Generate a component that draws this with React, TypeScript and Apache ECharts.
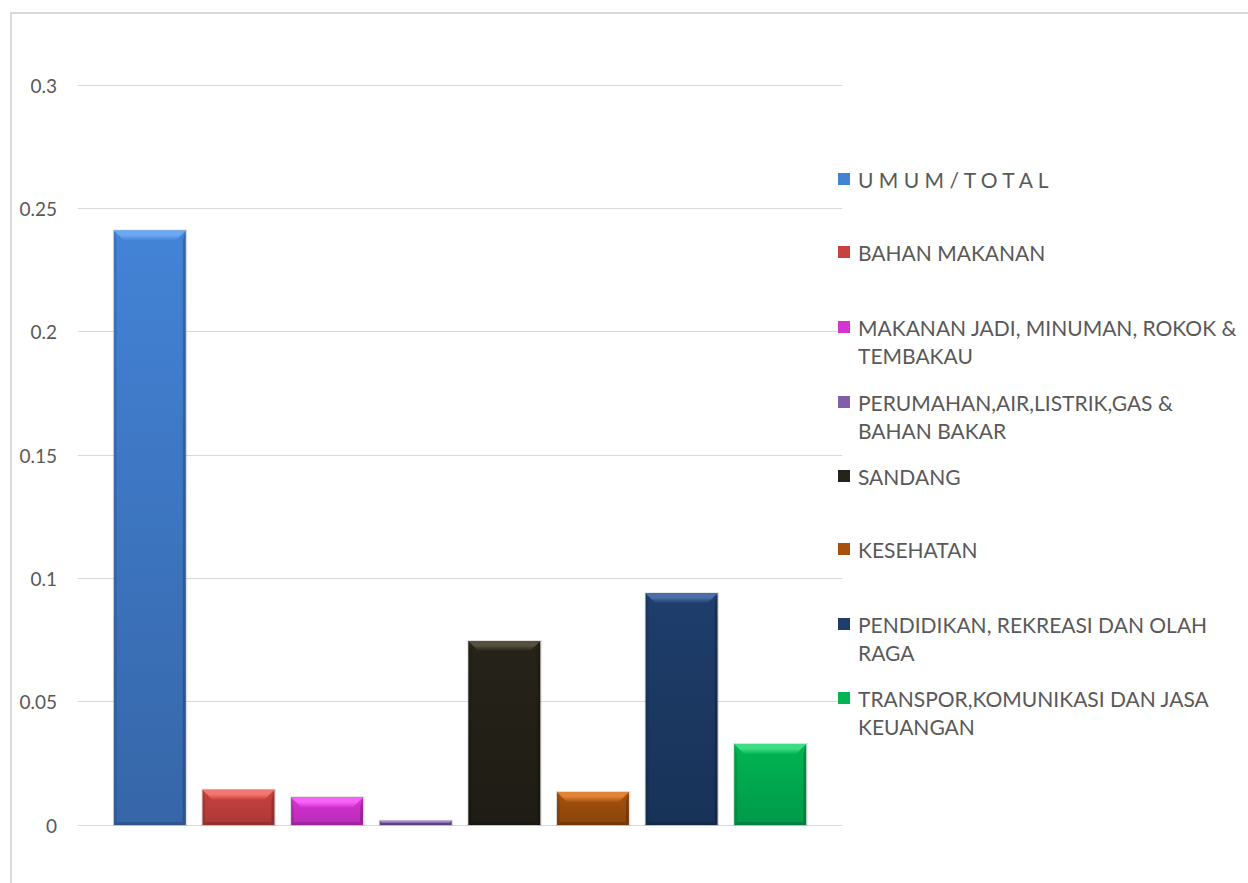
import React, { useEffect, useRef } from "react";
import * as echarts from "echarts";

const SERIES_NAMES = [
  "U M U M / T O T A L",
  "BAHAN MAKANAN",
  "MAKANAN JADI, MINUMAN, ROKOK &\nTEMBAKAU",
  "PERUMAHAN,AIR,LISTRIK,GAS &\nBAHAN BAKAR",
  "SANDANG",
  "KESEHATAN",
  "PENDIDIKAN, REKREASI DAN OLAH\nRAGA",
  "TRANSPOR,KOMUNIKASI DAN JASA\nKEUANGAN",
];
const SERIES_VALUES = [0.241, 0.0143, 0.0112, 0.0017, 0.0746, 0.0134, 0.094, 0.0328];
const CATEGORIES = [""];
const Y_MIN = 0;
const Y_MAX = 0.3;
const Y_INTERVAL = 0.05;

const COLORS = ["#4383D6", "#C8423F", "#D534D3", "#7F5FAA", "#26231A", "#A6520E", "#1F3E6C", "#00B552"];
const TOP_COLORS = ["#6AA8F4", "#F47672", "#F763F7", "#A78BD2", "#55513E", "#E08436", "#4A6FA8", "#3EDC84"];
const BOTTOM_COLORS = ["#3666A8", "#AD3836", "#B92AB7", "#664C8C", "#1E1C14", "#8A440B", "#183257", "#00994A"];

const LEGEND_CENTERS = [179, 252, 327, 402, 476, 549, 624, 698];
const FONT = "Lato, 'Liberation Sans', sans-serif";
const TEXT_COLOR = "#595959";

export default function App() {
  const ref = useRef<HTMLDivElement>(null);
  useEffect(() => {
    if (!ref.current) return;
    const chart = echarts.init(ref.current, null, { renderer: "svg" });
    const n = SERIES_NAMES.length;
    const STEP_RATIO = 0.116;
    const BAR_RATIO = 0.0942;
    const LH = 28;

    const series = SERIES_NAMES.map((name, idx) => ({
      type: "custom",
      name,
      itemStyle: { color: COLORS[idx] },
      data: [[0, SERIES_VALUES[idx]]],
      renderItem: (params: any, api: any) => {
        const v = api.value(1);
        const base = api.coord([0, 0]);
        const top = api.coord([0, v]);
        const catW = api.size([1, 0])[0];
        const step = catW * STEP_RATIO;
        const bw = catW * BAR_RATIO;
        const cx = base[0] + (idx - (n - 1) / 2) * step;
        const x = cx - bw / 2;
        const y = top[1];
        const h = base[1] - top[1];
        const b = Math.min(10, h / 2, bw / 2);
        const s = Math.min(3, bw / 2);
        const grad = new echarts.graphic.LinearGradient(0, 0, 0, 1, [
          { offset: 0, color: COLORS[idx] },
          { offset: 1, color: BOTTOM_COLORS[idx] },
        ]);
        return {
          type: "group",
          children: [
            {
              type: "rect",
              shape: { x: x - 1, y: y - 1, width: bw + 2.5, height: h + 2 },
              style: { fill: "rgba(0,0,0,0.12)" },
            },
            {
              type: "rect",
              shape: { x, y, width: bw, height: h },
              style: { fill: grad },
            },
            {
              type: "polygon",
              shape: { points: [[x, y], [x + s, y + b], [x + s, y + h - s], [x, y + h]] },
              style: { fill: "rgba(0,0,0,0.10)" },
            },
            {
              type: "polygon",
              shape: { points: [[x + bw, y], [x + bw - s, y + b], [x + bw - s, y + h - s], [x + bw, y + h]] },
              style: { fill: "rgba(0,0,0,0.20)" },
            },
            {
              type: "polygon",
              shape: { points: [[x, y + h], [x + s, y + h - s], [x + bw - s, y + h - s], [x + bw, y + h]] },
              style: { fill: "rgba(0,0,0,0.15)" },
            },
            {
              type: "polygon",
              shape: { points: [[x, y], [x + bw, y], [x + bw - b, y + b], [x + b, y + b]] },
              style: {
                fill: new echarts.graphic.LinearGradient(0, 0, 0, 1, [
                  { offset: 0, color: TOP_COLORS[idx] },
                  { offset: 0.45, color: TOP_COLORS[idx] },
                  { offset: 1, color: COLORS[idx] },
                ]),
              },
            },
          ],
        };
      },
    }));

    const legends = SERIES_NAMES.map((name, idx) => {
      const twoLine = name.includes("\n");
      return {
        orient: "vertical",
        left: 838,
        top: LEGEND_CENTERS[idx] - (twoLine ? LH * 1.5 : LH / 2),
        data: [name],
        icon: "rect",
        itemWidth: 12,
        itemHeight: 12,
        padding: 0,
        itemGap: 0,
        selectedMode: false,
        formatter: (nm: string) => (nm.includes("\n") ? "\n" + nm : nm),
        textStyle: {
          fontFamily: FONT,
          fontSize: 21,
          lineHeight: LH,
          color: TEXT_COLOR,
          padding: [0, 0, 0, 3],
        },
      };
    });

    chart.setOption({
      animation: false,
      backgroundColor: "#ffffff",
      grid: { left: 78, right: 406, top: 85, bottom: 58, containLabel: false },
      xAxis: {
        type: "category",
        data: CATEGORIES,
        axisLine: { show: true, lineStyle: { color: "#D9D9D9", width: 1 } },
        axisTick: { show: false },
        axisLabel: { show: false },
      },
      yAxis: {
        type: "value",
        min: Y_MIN,
        max: Y_MAX,
        interval: Y_INTERVAL,
        axisLine: { show: false },
        axisTick: { show: false },
        splitLine: { lineStyle: { color: "#D9D9D9", width: 1 } },
        axisLabel: { fontFamily: FONT, fontSize: 19, color: TEXT_COLOR, margin: 21 },
      },
      legend: legends,
      graphic: [
        {
          type: "rect",
          shape: { x: 11, y: 13, width: 1400, height: 1000 },
          style: { fill: "none", stroke: "#D9D9D9", lineWidth: 2 },
          silent: true,
          z: -1,
        },
      ],
      series,
    });
    return () => chart.dispose();
  }, []);
  return (
    <div
      ref={ref}
      style={{ position: "absolute", left: 0, top: 0, width: 1248, height: 883 }}
    />
  );
}
